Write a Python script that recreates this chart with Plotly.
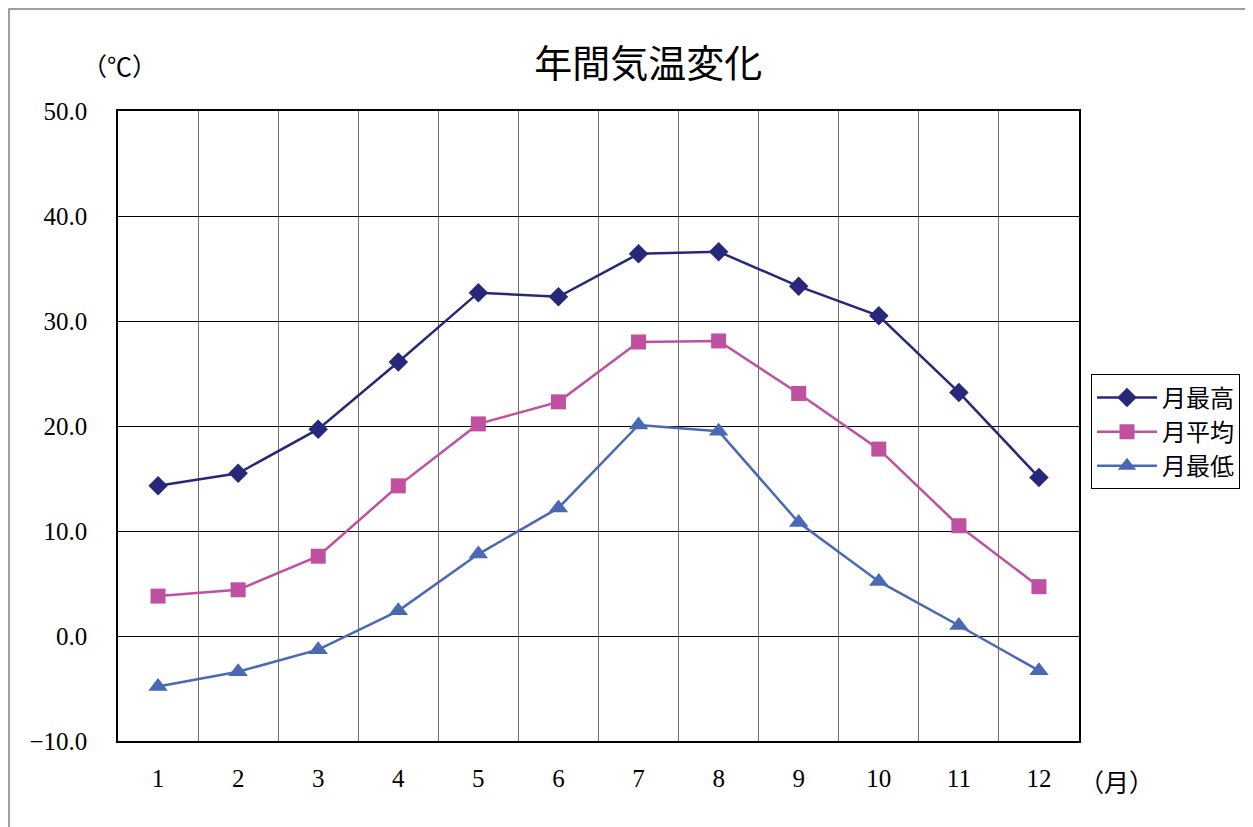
import plotly.graph_objects as go

months = [1, 2, 3, 4, 5, 6, 7, 8, 9, 10, 11, 12]
month_labels = ["1", "2", "3", "4", "5", "6", "7", "8", "9", "10", "11", "12"]
t_max = [14.3, 15.5, 19.7, 26.1, 32.7, 32.3, 36.4, 36.6, 33.3, 30.5, 23.2, 15.1]
t_avg = [3.8, 4.4, 7.6, 14.3, 20.2, 22.3, 28.0, 28.1, 23.1, 17.8, 10.5, 4.7]
t_min = [-4.8, -3.4, -1.3, 2.4, 7.8, 12.2, 20.1, 19.5, 10.8, 5.2, 1.0, -3.3]
y_ticks = [-10, 0, 10, 20, 30, 40, 50]

FONT = "Liberation Serif, Noto Sans CJK JP, serif"

fig = go.Figure()
fig.add_trace(go.Scatter(x=months, y=t_max, name="月最高", mode="lines+markers",
                         line=dict(color="#28287A", width=2.5),
                         marker=dict(symbol="diamond", size=15, color="#28287A")))
fig.add_trace(go.Scatter(x=months, y=t_avg, name="月平均", mode="lines+markers",
                         line=dict(color="#C050A0", width=2.5),
                         marker=dict(symbol="square", size=15, color="#C050A0")))
fig.add_trace(go.Scatter(x=months, y=t_min, name="月最低", mode="lines+markers",
                         line=dict(color="#4A68B4", width=2.5),
                         marker=dict(symbol="triangle-up", size=17, color="#4A68B4")))

fig.update_layout(
    width=1253, height=827,
    margin=dict(l=110, r=182, t=103, b=94),
    paper_bgcolor="white", plot_bgcolor="white",
    font=dict(family=FONT, size=25, color="black"),
    title=dict(text="年間気温変化", x=0.511, xanchor="center", y=0.933, yanchor="middle",
               font=dict(family=FONT, size=38, color="black")),
    showlegend=True,
    legend=dict(x=1.0125, y=0.582, xanchor="left", yanchor="top",
                bordercolor="black", borderwidth=1, bgcolor="white",
                font=dict(family=FONT, size=24), itemwidth=60),
    xaxis=dict(range=[0.5, 12.5], tickvals=months, ticktext=month_labels,
               showgrid=False, zeroline=False, showline=True, linecolor="black",
               linewidth=1.5, mirror=True, ticks="", ticklen=0, ticklabelstandoff=14,
               tickfont=dict(family=FONT, size=25),
               minor=dict(tickvals=[1.5, 2.5, 3.5, 4.5, 5.5, 6.5, 7.5, 8.5, 9.5, 10.5, 11.5],
                          showgrid=True, gridcolor="#707070", gridwidth=1.2, ticks="")),
    yaxis=dict(range=[-10, 50], tickvals=y_ticks, tickformat=".1f",
               showgrid=True, gridcolor="black", gridwidth=1, zeroline=False,
               showline=True, linecolor="black", linewidth=1.5, mirror=True,
               ticks="", ticklabelstandoff=24,
               tickfont=dict(family=FONT, size=25)),
    shapes=[dict(type="rect", xref="paper", yref="paper",
                 x0=(1 - 110) / 961, x1=(1241 - 110) / 961,
                 y0=-0.2, y1=(733 - 1) / 630,
                 line=dict(color="#808080", width=1.5), layer="below")],
    annotations=[
        dict(text="（℃）", xref="paper", yref="paper", x=(118 - 117) / 961, y=(740 - 66) / 630,
             showarrow=False, xanchor="center", yanchor="middle", font=dict(family=FONT, size=25)),
        dict(text="（月）", xref="paper", yref="paper", x=(1115 - 117) / 961, y=(740 - 782) / 630,
             showarrow=False, xanchor="center", yanchor="middle", font=dict(family=FONT, size=25)),
    ],
)

fig.write_html("out.html")
